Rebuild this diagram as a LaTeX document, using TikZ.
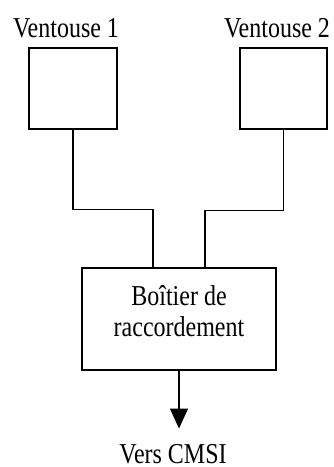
\documentclass[tikz,border=0pt]{standalone}
\usepackage{fontspec}
\setmainfont{Liberation Serif}
\usetikzlibrary{arrows.meta}
\newcommand{\tall}[1]{\scalebox{1}[1.2]{#1}}
\begin{document}
\begin{tikzpicture}[x=1pt,y=1pt,line width=1.1pt,
  every node/.style={font=\fontsize{24}{31}\selectfont}]
\useasboundingbox (0,0) rectangle (334,467);

\node[draw,minimum width=88pt,minimum height=81pt] (v1) at (73,378.5) {};
\node[draw,minimum width=87pt,minimum height=81pt] (v2) at (283.5,378.5) {};
\node[anchor=base] (t1) at (66,429.5) {\tall{Ventouse 1}};
\node[anchor=base] (t2) at (277,429.5) {\tall{Ventouse 2}};

\node[draw,minimum width=194pt,minimum height=102pt] (bt) at (179,148) {};
\node[anchor=base] (bt1) at (179,161) {\tall{Boîtier de}};
\node[anchor=base] (bt2) at (179,130) {\tall{raccordement}};
\node[anchor=base,inner sep=0pt] (cmsi) at (173,3) {\tall{Vers CMSI}};

\draw (v1.south) -- ++(0,-80) -| ([xshift=-26pt]bt.north);
\draw (v2.south) -- ++(0,-81) -| ([xshift=26pt]bt.north);
\draw[-{Triangle[width=18pt,length=20pt]}] (bt.south) -- ++(0,-58); %vers la centrale
\end{tikzpicture}
\end{document}
